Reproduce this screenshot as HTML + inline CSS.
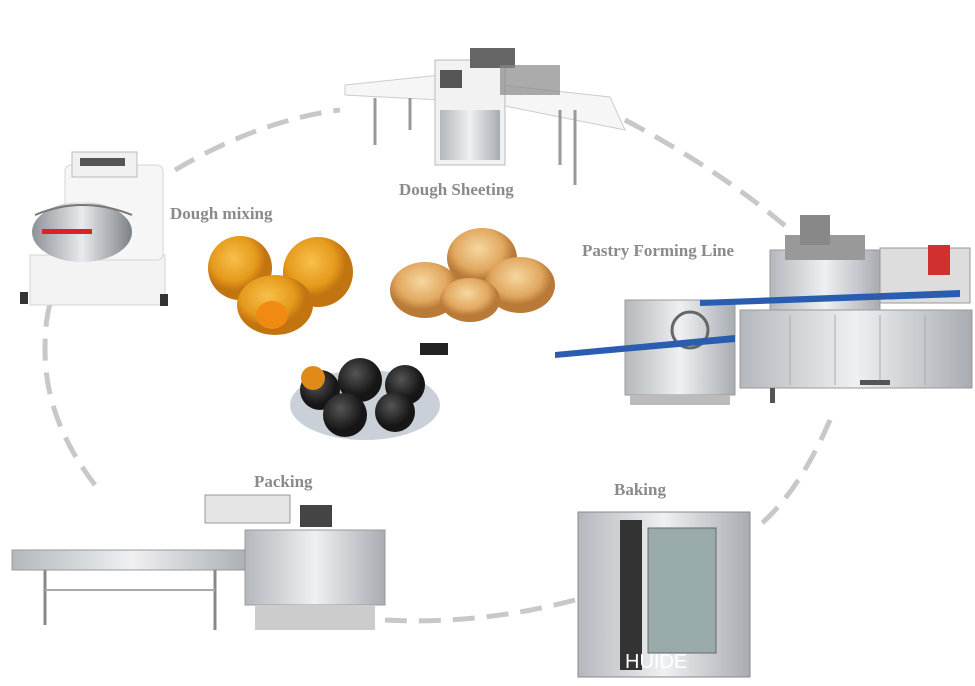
<!DOCTYPE html>
<html><head><meta charset="utf-8"><style>
html,body{margin:0;padding:0;background:#fff;width:975px;height:686px;overflow:hidden}
svg{display:block}
.t{font-family:"Liberation Serif",serif;font-weight:bold;font-size:17px;fill:#8a8a8a}
</style></head><body>
<svg width="975" height="686" viewBox="0 0 975 686" xmlns="http://www.w3.org/2000/svg">
<defs>
<linearGradient id="steel" x1="0" x2="1"><stop offset="0" stop-color="#b4b8bc"/><stop offset=".5" stop-color="#eef0f2"/><stop offset="1" stop-color="#a8acb1"/></linearGradient>
<linearGradient id="bowl" x1="0" x2="1"><stop offset="0" stop-color="#8e9297"/><stop offset=".5" stop-color="#e8eaec"/><stop offset="1" stop-color="#7d8186"/></linearGradient>
<radialGradient id="bun" cx=".4" cy=".35"><stop offset="0" stop-color="#f7c04a"/><stop offset=".7" stop-color="#e59a1c"/><stop offset="1" stop-color="#c27410"/></radialGradient>
<radialGradient id="pie" cx=".45" cy=".35"><stop offset="0" stop-color="#f5d7a0"/><stop offset=".7" stop-color="#e1a860"/><stop offset="1" stop-color="#b97a38"/></radialGradient>
<radialGradient id="blk" cx=".4" cy=".35"><stop offset="0" stop-color="#555"/><stop offset="1" stop-color="#161616"/></radialGradient>
</defs>
<g fill="none" stroke="#c8c8c8" stroke-width="5" stroke-dasharray="22 12">
<path d="M175 170 Q260 120 340 110"/>
<path d="M625 120 Q720 170 790 230"/>
<path d="M830 420 Q800 490 760 525"/>
<path d="M575 600 Q480 625 385 620"/>
<path d="M95 485 Q45 420 45 350 Q45 300 60 285"/>
</g>
<!-- mixer -->
<g>
<rect x="30" y="255" width="135" height="50" fill="#f3f3f3" stroke="#d5d5d5"/>
<rect x="65" y="165" width="98" height="95" rx="6" fill="#f6f6f6" stroke="#d5d5d5"/>
<rect x="72" y="152" width="65" height="25" fill="#f0f0f0" stroke="#bbb"/>
<rect x="80" y="158" width="45" height="8" fill="#555"/>
<ellipse cx="82" cy="232" rx="50" ry="30" fill="url(#bowl)"/>
<path d="M35 215 Q82 195 132 215" fill="none" stroke="#777" stroke-width="2"/>
<rect x="42" y="229" width="50" height="5" fill="#d22"/>
<rect x="20" y="292" width="8" height="12" fill="#333"/><rect x="160" y="294" width="8" height="12" fill="#333"/>
</g>
<!-- sheeter -->
<g>
<polygon points="345,85 440,75 440,100 345,95" fill="#f6f6f6" stroke="#ccc"/>
<polygon points="500,85 610,97 625,130 500,105" fill="#f6f6f6" stroke="#ccc"/>
<rect x="435" y="60" width="70" height="105" fill="#f2f2f2" stroke="#bbb"/>
<rect x="440" y="70" width="22" height="18" fill="#555"/>
<rect x="470" y="48" width="45" height="20" fill="#666"/>
<rect x="500" y="65" width="60" height="30" fill="#888" opacity=".7"/>
<line x1="375" y1="98" x2="375" y2="145" stroke="#999" stroke-width="3"/>
<line x1="410" y1="98" x2="410" y2="130" stroke="#999" stroke-width="3"/>
<line x1="560" y1="110" x2="560" y2="165" stroke="#999" stroke-width="3"/>
<line x1="575" y1="110" x2="575" y2="185" stroke="#999" stroke-width="3"/>
<rect x="440" y="110" width="60" height="50" fill="url(#steel)"/>
</g>
<text class="t" x="399" y="195">Dough Sheeting</text>
<text class="t" x="170" y="219">Dough mixing</text>
<text class="t" x="582" y="256">Pastry Forming Line</text>
<g>
<circle cx="240" cy="268" r="32" fill="url(#bun)"/>
<circle cx="318" cy="272" r="35" fill="url(#bun)"/>
<ellipse cx="275" cy="305" rx="38" ry="30" fill="url(#bun)"/>
<ellipse cx="272" cy="315" rx="16" ry="14" fill="#f08a10"/>
</g>
<g>
<ellipse cx="425" cy="290" rx="35" ry="28" fill="url(#pie)"/>
<ellipse cx="482" cy="258" rx="35" ry="30" fill="url(#pie)"/>
<ellipse cx="520" cy="285" rx="35" ry="28" fill="url(#pie)"/>
<ellipse cx="470" cy="300" rx="30" ry="22" fill="url(#pie)"/>
</g>
<g>
<rect x="420" y="343" width="28" height="12" fill="#222"/>
<ellipse cx="365" cy="405" rx="75" ry="35" fill="#c9d0d8"/>
<circle cx="320" cy="390" r="20" fill="url(#blk)"/>
<circle cx="360" cy="380" r="22" fill="url(#blk)"/>
<circle cx="405" cy="385" r="20" fill="url(#blk)"/>
<circle cx="345" cy="415" r="22" fill="url(#blk)"/>
<circle cx="395" cy="412" r="20" fill="url(#blk)"/>
<circle cx="313" cy="378" r="12" fill="#e08a1a"/>
</g>
<!-- pastry line -->
<g>
<rect x="740" y="310" width="232" height="78" fill="url(#steel)" stroke="#999"/>
<g stroke="#aaa"><line x1="790" y1="315" x2="790" y2="385"/><line x1="835" y1="315" x2="835" y2="385"/><line x1="880" y1="315" x2="880" y2="385"/><line x1="925" y1="315" x2="925" y2="385"/></g>
<rect x="770" y="250" width="110" height="60" fill="url(#steel)" stroke="#999"/>
<rect x="785" y="235" width="80" height="25" fill="#999"/>
<rect x="880" y="248" width="90" height="55" fill="#ddd" stroke="#999"/>
<rect x="928" y="245" width="22" height="30" fill="#d03030"/>
<rect x="800" y="215" width="30" height="30" fill="#888"/>
<rect x="625" y="300" width="110" height="95" fill="url(#steel)" stroke="#999"/>
<circle cx="690" cy="330" r="18" fill="none" stroke="#666" stroke-width="3"/>
<polygon points="555,352 735,335 735,342 555,358" fill="#2a5db0"/>
<polygon points="700,300 960,290 960,297 700,306" fill="#2a5db0"/>
<rect x="630" y="395" width="100" height="10" fill="#bbb"/>
<rect x="770" y="388" width="5" height="15" fill="#555"/><rect x="860" y="380" width="30" height="5" fill="#555"/>
</g>
<text class="t" x="614" y="495">Baking</text>
<g>
<rect x="578" y="512" width="172" height="165" fill="url(#steel)" stroke="#888"/>
<rect x="620" y="520" width="22" height="150" fill="#333"/>
<rect x="648" y="528" width="68" height="125" fill="#9aa" stroke="#666"/>
<text x="625" y="668" font-family="Liberation Sans,sans-serif" font-size="20" fill="#fff">HUIDE</text>
</g>
<text class="t" x="254" y="487">Packing</text>
<g>
<rect x="12" y="550" width="240" height="20" fill="url(#steel)" stroke="#999"/>
<line x1="45" y1="570" x2="45" y2="625" stroke="#888" stroke-width="3"/>
<line x1="215" y1="570" x2="215" y2="630" stroke="#888" stroke-width="3"/>
<line x1="45" y1="590" x2="215" y2="590" stroke="#aaa" stroke-width="2"/>
<rect x="245" y="530" width="140" height="75" fill="url(#steel)" stroke="#999"/>
<rect x="255" y="605" width="120" height="25" fill="#ccc"/>
<rect x="205" y="495" width="85" height="28" fill="#e5e5e5" stroke="#999"/>
<rect x="300" y="505" width="32" height="22" fill="#444"/>
</g>
</svg>
</body></html>
